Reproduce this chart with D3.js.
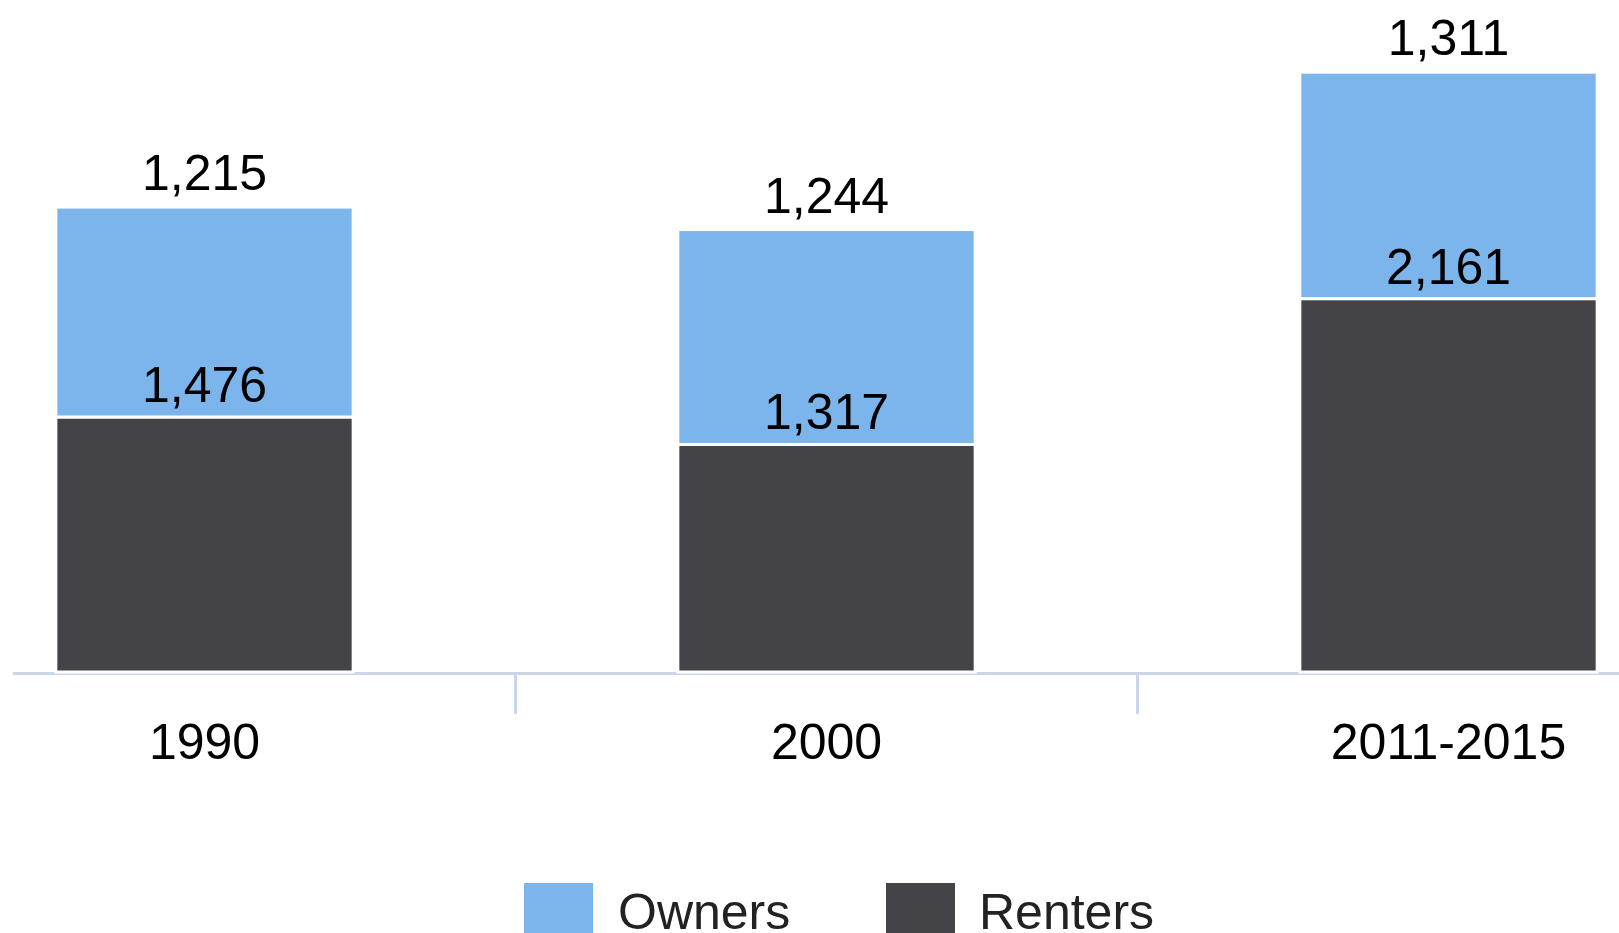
<!DOCTYPE html>
<html>
<head>
<meta charset="utf-8">
<script src="https://cdn.jsdelivr.net/npm/d3@7"></script>
<style>
  html, body { margin: 0; padding: 0; background: #fff; }
  svg { display: block; }
  text { font-family: "Liberation Sans", Arial, Helvetica, sans-serif; }
</style>
</head>
<body>
<svg id="chart" width="1619" height="933"></svg>
<script>
const categories = ["1990", "2000", "2011-2015"];
const seriesNames = ["Renters", "Owners"];
const renters = [1476, 1317, 2161];
const owners = [1215, 1244, 1311];
const colors = { Owners: "#7cb5ec", Renters: "#434348" };

const W = 1619, H = 933;
const svg = d3.select("#chart");

const rows = categories.map((c, i) => ({ cat: c, Renters: renters[i], Owners: owners[i] }));
const stack = d3.stack().keys(seriesNames)(rows);

const x = d3.scaleBand().domain(categories).range([-106.5, 1759.5]).padding(0);
const y = d3.scaleLinear().domain([0, 3500]).range([672, 672 - 3500 * (255 / 1476)]);
const barFrac = 0.478;
const bw = x.bandwidth() * barFrac;

// axis line and tick marks between categories
const axisG = svg.append("g");
axisG.append("line")
  .attr("x1", 13).attr("x2", W)
  .attr("y1", y(0) + 1.5).attr("y2", y(0) + 1.5)
  .attr("stroke", "#ccd6eb").attr("stroke-width", 3);
categories.slice(1).forEach(c => {
  axisG.append("line")
    .attr("x1", x(c)).attr("x2", x(c))
    .attr("y1", y(0)).attr("y2", y(0) + 42)
    .attr("stroke", "#ccd6eb").attr("stroke-width", 3);
});

// bars
stack.forEach(layer => {
  const key = layer.key;
  svg.append("g").selectAll("rect")
    .data(layer)
    .join("rect")
    .attr("x", d => x(d.data.cat) + (x.bandwidth() - bw) / 2)
    .attr("width", bw)
    .attr("y", d => y(d[1]))
    .attr("height", d => y(d[0]) - y(d[1]))
    .attr("fill", colors[key])
    .attr("stroke", "#ffffff")
    .attr("stroke-width", 3);
});

// value labels
stack.forEach(layer => {
  const key = layer.key;
  const off = key === "Owners" ? 17 : 15;
  svg.append("g").selectAll("text")
    .data(layer)
    .join("text")
    .attr("x", d => x(d.data.cat) + x.bandwidth() / 2)
    .attr("y", d => y(d[1]) - off)
    .attr("text-anchor", "middle")
    .attr("font-size", 50)
    .attr("fill", "#000")
    .text(d => d3.format(",")(d.data[key]));
});

// category labels
svg.append("g").selectAll("text")
  .data(categories)
  .join("text")
  .attr("x", d => x(d) + x.bandwidth() / 2)
  .attr("y", 759)
  .attr("text-anchor", "middle")
  .attr("font-size", 50)
  .attr("fill", "#000")
  .text(d => d);

// legend
const legendItems = [
  { name: "Owners", sx: 524, tx: 618 },
  { name: "Renters", sx: 886, tx: 979 }
];
const lg = svg.append("g");
legendItems.forEach(it => {
  lg.append("rect").attr("x", it.sx).attr("y", 883).attr("width", 69).attr("height", 69)
    .attr("fill", colors[it.name]);
  lg.append("text").attr("x", it.tx).attr("y", 929)
    .attr("font-size", 50).attr("fill", "#222").text(it.name);
});
</script>
</body>
</html>
